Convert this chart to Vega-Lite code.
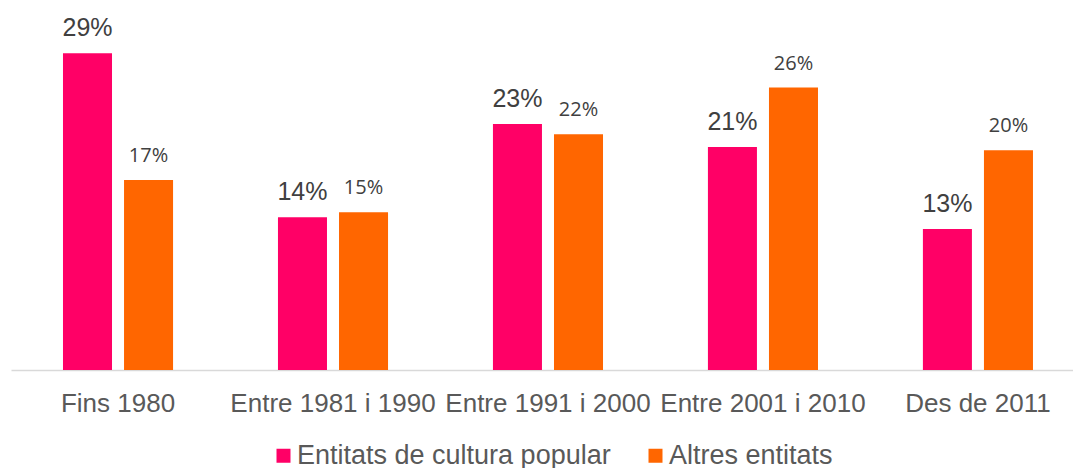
{
  "$schema": "https://vega.github.io/schema/vega-lite/v6.json",
  "width": 1062,
  "height": 370,
  "autosize": {"type": "none"},
  "padding": {"left": 11, "top": 0, "right": 0, "bottom": 98},
  "background": "white",
  "config": {"view": {"stroke": null}, "font": "Liberation Sans"},
  "data": {
    "values": [
      {"periode": "Fins 1980", "serie": "Entitats de cultura popular", "valor": 29.1, "etiqueta": "29%"},
      {"periode": "Fins 1980", "serie": "Altres entitats", "valor": 17.45, "etiqueta": "17%"},
      {"periode": "Entre 1981 i 1990", "serie": "Entitats de cultura popular", "valor": 14.03, "etiqueta": "14%"},
      {"periode": "Entre 1981 i 1990", "serie": "Altres entitats", "valor": 14.5, "etiqueta": "15%"},
      {"periode": "Entre 1991 i 2000", "serie": "Entitats de cultura popular", "valor": 22.6, "etiqueta": "23%"},
      {"periode": "Entre 1991 i 2000", "serie": "Altres entitats", "valor": 21.66, "etiqueta": "22%"},
      {"periode": "Entre 2001 i 2010", "serie": "Entitats de cultura popular", "valor": 20.5, "etiqueta": "21%"},
      {"periode": "Entre 2001 i 2010", "serie": "Altres entitats", "valor": 25.95, "etiqueta": "26%"},
      {"periode": "Des de 2011", "serie": "Entitats de cultura popular", "valor": 12.96, "etiqueta": "13%"},
      {"periode": "Des de 2011", "serie": "Altres entitats", "valor": 20.19, "etiqueta": "20%"}
    ]
  },
  "encoding": {
    "x": {
      "field": "periode",
      "type": "nominal",
      "sort": null,
      "scale": {"paddingInner": 0.488, "paddingOuter": 0.214, "align": 0.565},
      "axis": {
        "title": null,
        "labelAngle": 0,
        "ticks": false,
        "labelPadding": 20,
        "labelFontSize": 26,
        "labelColor": "#595959",
        "labelFont": "Liberation Sans",
        "domainColor": "#d9d9d9",
        "domainWidth": 1.5,
        "grid": false,
        "labelLimit": 0,
        "labelOverlap": false
      }
    },
    "xOffset": {
      "field": "serie",
      "type": "nominal",
      "scale": {"domain": ["Entitats de cultura popular", "Altres entitats"], "paddingInner": 0.197, "paddingOuter": 0}
    },
    "y": {"field": "valor", "type": "quantitative", "scale": {"domain": [0, 34]}, "axis": null}
  },
  "layer": [
    {
      "mark": {"type": "bar"},
      "encoding": {
        "color": {
          "field": "serie",
          "type": "nominal",
          "scale": {"domain": ["Entitats de cultura popular", "Altres entitats"], "range": ["#FF0066", "#FF6600"]},
          "legend": {
            "title": null,
            "orient": "none",
            "legendX": 259,
            "legendY": 442,
            "direction": "horizontal",
            "symbolType": "square",
            "symbolSize": 196,
            "symbolStrokeWidth": 0,
            "symbolOpacity": 1,
            "labelFontSize": 27,
            "labelColor": "#595959",
            "labelFont": "Liberation Sans",
            "labelOffset": 0,
            "columnPadding": 31,
            "labelLimit": 0
          }
        }
      }
    },
    {
      "transform": [{"filter": "datum.serie === 'Entitats de cultura popular'"}],
      "mark": {"type": "text", "font": "Liberation Sans", "fontSize": 25, "color": "#404040", "baseline": "alphabetic", "dy": -17},
      "encoding": {"text": {"field": "etiqueta"}}
    },
    {
      "transform": [{"filter": "datum.serie === 'Altres entitats'"}],
      "mark": {"type": "text", "font": "Open Sans", "fontSize": 20, "color": "#404040", "baseline": "alphabetic", "dy": -18},
      "encoding": {"text": {"field": "etiqueta"}}
    }
  ]
}
